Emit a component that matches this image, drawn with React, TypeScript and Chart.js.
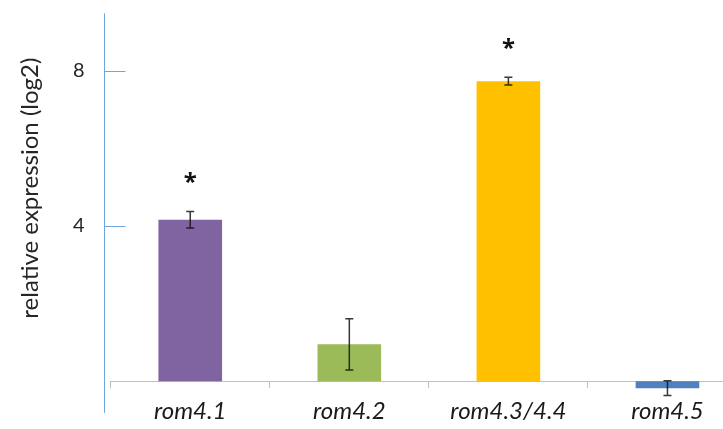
import React, { useEffect, useRef } from "react";
import { Chart, registerables } from "chart.js";

Chart.register(...registerables);

const categories = ["rom4.1", "rom4.2", "rom4.3/4.4", "rom4.5"];
const values = [4.16, 0.95, 7.73, -0.18];
const errors = [0.21, 0.66, 0.1, 0.19];
const significant = [true, false, true, false];
const barColors = ["#8064A2", "#9BBB59", "#FFC000", "#4F81BD"];
const yTicks = [4, 8];
const yMin = -0.82;
const yMax = 9.48;
const yTitle = "relative expression (log2)";

const decor = {
  id: "decor",
  afterDraw(chart: any) {
    const { ctx, chartArea, scales } = chart;
    const y = scales.y;
    const ax = Math.round(chartArea.left - 6.4) + 0.5;
    ctx.save();
    ctx.strokeStyle = "#6fa8dc";
    ctx.lineWidth = 1;
    ctx.beginPath();
    ctx.moveTo(ax, chartArea.top);
    ctx.lineTo(ax, chartArea.bottom);
    yTicks.forEach((v) => {
      const py = Math.round(y.getPixelForValue(v)) + 0.5;
      ctx.moveTo(ax, py);
      ctx.lineTo(ax + 21, py);
    });
    ctx.stroke();

    // axis title
    ctx.save();
    ctx.translate(chartArea.left - 80, (chartArea.top + chartArea.bottom) / 2 - 25);
    ctx.rotate(-Math.PI / 2);
    ctx.fillStyle = "#262626";
    ctx.font = "24px Lato";
    ctx.textAlign = "center";
    ctx.textBaseline = "middle";
    ctx.fillText(yTitle, 0, 0);
    ctx.restore();
    ctx.restore();
  },
  afterDatasetsDraw(chart: any) {
    const { ctx, scales } = chart;
    const y = scales.y;
    const meta = chart.getDatasetMeta(0);
    ctx.save();
    ctx.strokeStyle = "rgba(20,20,20,0.85)";
    ctx.lineWidth = 1.5;
    meta.data.forEach((bar: any, i: number) => {
      const x = bar.x;
      const top = y.getPixelForValue(values[i] + errors[i]);
      const bot = y.getPixelForValue(values[i] - errors[i]);
      ctx.beginPath();
      ctx.moveTo(x, top);
      ctx.lineTo(x, bot);
      ctx.moveTo(x - 4, top);
      ctx.lineTo(x + 4, top);
      ctx.moveTo(x - 4, bot);
      ctx.lineTo(x + 4, bot);
      ctx.stroke();
      if (significant[i]) {
        ctx.fillStyle = "#111";
        ctx.font = 'bold 24px "Noto Sans"';
        ctx.textAlign = "center";
        ctx.textBaseline = "middle";
        ctx.fillText("*", x, top - 28);
      }
    });
    ctx.restore();
  },
};

export default function App() {
  const ref = useRef<HTMLCanvasElement>(null);
  useEffect(() => {
    const chart = new Chart(ref.current as HTMLCanvasElement, {
      type: "bar",
      data: {
        labels: categories,
        datasets: [
          {
            data: values,
            backgroundColor: barColors,
            borderWidth: 0,
            categoryPercentage: 0.8,
            barPercentage: 0.5,
          },
        ],
      },
      options: {
        animation: false,
        responsive: false,
        devicePixelRatio: 1,
        layout: { padding: { top: 13.3, bottom: 16, left: 0, right: 0 } },
        plugins: { legend: { display: false }, tooltip: { enabled: false } },
        scales: {
          x: {
            position: { y: 0 } as any,
            offset: true,
            grid: {
              display: true,
              drawOnChartArea: false,
              drawTicks: true,
              tickLength: 6,
              color: "#bfbfbf",
              offset: true,
            },
            border: { display: true, color: "#bfbfbf", width: 1 },
            ticks: {
              padding: 10,
              color: "#1a1a1a",
              font: { family: "Lato", size: 24, style: "italic" },
            },
            afterFit: (s: any) => {
              s.height = 0;
              s.paddingLeft = 0;
              s.paddingRight = 0;
            },
          },
          y: {
            min: yMin,
            max: yMax,
            grid: { display: false, drawTicks: false },
            border: { display: false },
            afterBuildTicks: (s: any) => {
              s.ticks = yTicks.map((v) => ({ value: v }));
            },
            ticks: {
              padding: 26,
              color: "#262626",
              font: { family: "Lato", size: 20 },
            },
            afterFit: (s: any) => {
              s.width = 110.7;
              s.paddingTop = 0;
              s.paddingBottom = 0;
            },
          },
        },
      },
      plugins: [decor],
    });
    return () => chart.destroy();
  }, []);
  return (
    <div
      style={{
        position: "fixed",
        left: 0,
        top: 0,
        width: 723,
        height: 429,
        overflow: "hidden",
        background: "#fff",
      }}
    >
      <canvas
        ref={ref}
        width={747}
        height={429}
        style={{ display: "block", width: 747, height: 429 }}
      />
    </div>
  );
}
